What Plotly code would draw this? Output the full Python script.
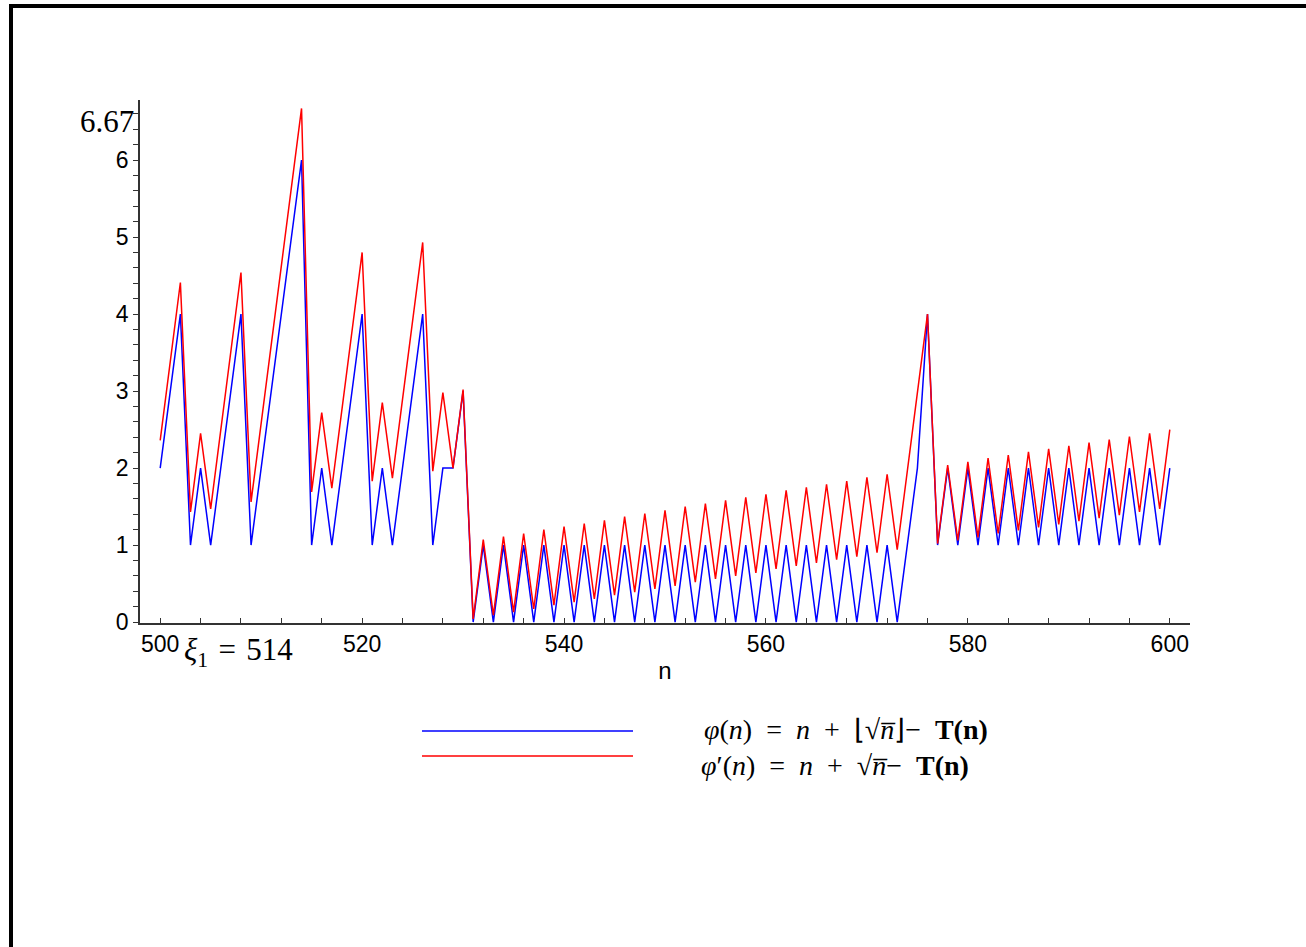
import plotly.graph_objects as go

# ---- data ----
n_values = list(range(500, 601))

phi_floor = [
    2, 3, 4, 1, 2, 1, 2, 3, 4, 1,          # 500-509
    2, 3, 4, 5, 6, 1, 2, 1, 2, 3,          # 510-519
    4, 1, 2, 1, 2, 3, 4, 1, 2, 2,          # 520-529
    3, 0, 1, 0, 1, 0, 1, 0, 1, 0,          # 530-539
    1, 0, 1, 0, 1, 0, 1, 0, 1, 0,          # 540-549
    1, 0, 1, 0, 1, 0, 1, 0, 1, 0,          # 550-559
    1, 0, 1, 0, 1, 0, 1, 0, 1, 0,          # 560-569
    1, 0, 1, 0, 1, 2, 4, 1, 2, 1,          # 570-579
    2, 1, 2, 1, 2, 1, 2, 1, 2, 1,          # 580-589
    2, 1, 2, 1, 2, 1, 2, 1, 2, 1,          # 590-599
    2,                                     # 600
]

phi_real = [
    2.36, 3.38, 4.41, 1.43, 2.45, 1.47, 2.49, 3.52, 4.54, 1.56,   # 500-509
    2.58, 3.60, 4.63, 5.65, 6.67, 1.69, 2.72, 1.74, 2.76, 3.78,   # 510-519
    4.80, 1.83, 2.85, 1.87, 2.89, 3.91, 4.93, 1.96, 2.98, 2.00,   # 520-529
    3.02, 0.04, 1.07, 0.09, 1.11, 0.13, 1.15, 0.17, 1.20, 0.22,   # 530-539
    1.24, 0.26, 1.28, 0.30, 1.32, 0.35, 1.37, 0.39, 1.41, 0.43,   # 540-549
    1.45, 0.47, 1.50, 0.52, 1.54, 0.56, 1.58, 0.60, 1.62, 0.64,   # 550-559
    1.66, 0.69, 1.71, 0.73, 1.75, 0.77, 1.79, 0.81, 1.83, 0.85,   # 560-569
    1.88, 0.90, 1.92, 0.94, 1.96, 2.98, 4.00, 1.02, 2.04, 1.06,   # 570-579
    2.08, 1.10, 2.13, 1.15, 2.17, 1.19, 2.21, 1.23, 2.25, 1.27,   # 580-589
    2.29, 1.31, 2.33, 1.35, 2.37, 1.39, 2.41, 1.43, 2.45, 1.47,   # 590-599
    2.50,                                                          # 600
]

y_tick_values = [0, 1, 2, 3, 4, 5, 6]
x_tick_values = [500, 520, 540, 560, 580, 600]
max_label = "6.67"
SP = "\u2004"
LSP = "\u2002"
xi_label = "<i>ξ</i><sub>1</sub>" + SP + "=" + SP + "514"
legend_labels = [
    "<i>φ</i>(<i>n</i>)" + LSP + "=" + LSP + "<i>n</i>" + LSP + "+" + LSP
    + "⌊√<i>n̅</i>⌋−" + LSP + "<b>T(n)</b>",
    "<i>φ</i>′(<i>n</i>)" + LSP + "=" + LSP + "<i>n</i>" + LSP + "+" + LSP
    + "√<i>n̅</i>−" + LSP + "<b>T(n)</b>",
]

# ---- layout geometry (pixels) ----
W, H = 1306, 947
L, R, T, B = 140, 1190, 100, 623


def px(x):
    return (x - L) / (R - L)


def py(y):
    return (B - y) / (B - T)


BLUE = "#0000ff"
RED = "#ff0000"
SERIF = "Liberation Serif"
SANS = "Liberation Sans"

fig = go.Figure()
fig.add_trace(go.Scatter(x=n_values, y=phi_floor, mode="lines",
                         line=dict(color=BLUE, width=1.5), showlegend=False))
fig.add_trace(go.Scatter(x=n_values, y=phi_real, mode="lines",
                         line=dict(color=RED, width=1.5), showlegend=False))

fig.update_layout(
    width=W, height=H,
    margin=dict(l=L, r=W - R, t=T, b=H - B, pad=0),
    plot_bgcolor="white", paper_bgcolor="white",
    font=dict(family=SANS, size=23, color="black"),
    xaxis=dict(range=[498, 602], showgrid=False, zeroline=False,
               showline=True, linecolor="#333333", linewidth=1.5,
               tickmode="array", tickvals=x_tick_values,
               ticks="inside", ticklen=5, tickwidth=1, tickcolor="#333333",
               minor=dict(dtick=4, tick0=500, ticks="inside", ticklen=5,
                          tickwidth=1, tickcolor="#333333"),
               tickfont=dict(family=SANS, size=23, color="black"),
               title=dict(text="n", font=dict(family=SANS, size=24),
                          standoff=6)),
    yaxis=dict(range=[-0.012, 6.78], showgrid=False, zeroline=False,
               showline=True, linecolor="#333333", linewidth=1.5,
               tickmode="array", tickvals=y_tick_values,
               ticks="outside", ticklen=5, tickwidth=1, tickcolor="#333333",
               minor=dict(dtick=0.2, tick0=0, ticks="outside", ticklen=5,
                          tickwidth=1, tickcolor="#333333"),
               tickfont=dict(family=SANS, size=23, color="black")),
)

shapes = [
    # page frame
    dict(type="rect", xref="paper", yref="paper",
         x0=px(11), x1=px(1312), y0=py(965), y1=py(6),
         line=dict(color="black", width=4), fillcolor="rgba(0,0,0,0)"),
    # legend lines
    dict(type="line", xref="paper", yref="paper",
         x0=px(422), x1=px(633), y0=py(731), y1=py(731),
         line=dict(color=BLUE, width=1.5)),
    dict(type="line", xref="paper", yref="paper",
         x0=px(422), x1=px(633), y0=py(756), y1=py(756),
         line=dict(color=RED, width=1.5)),
]
fig.update_layout(shapes=shapes)

annotations = [
    dict(text=max_label, xref="paper", yref="paper", x=px(136), y=py(122),
         xanchor="right", yanchor="middle", showarrow=False,
         font=dict(family=SERIF, size=31, color="black")),
    dict(text=xi_label, xref="paper", yref="paper", x=px(182), y=py(652),
         xanchor="left", yanchor="middle", showarrow=False,
         font=dict(family=SERIF, size=31, color="black")),
    dict(text=legend_labels[0], xref="paper", yref="paper", x=px(702), y=py(729),
         xanchor="left", yanchor="middle", showarrow=False,
         font=dict(family=SERIF, size=28, color="black")),
    dict(text=legend_labels[1], xref="paper", yref="paper", x=px(699), y=py(765),
         xanchor="left", yanchor="middle", showarrow=False,
         font=dict(family=SERIF, size=28, color="black")),
]
fig.update_layout(annotations=annotations)

fig.write_html("out.html", config={"displayModeBar": False},
               post_script="document.body.style.margin='0';document.body.style.padding='0';")
